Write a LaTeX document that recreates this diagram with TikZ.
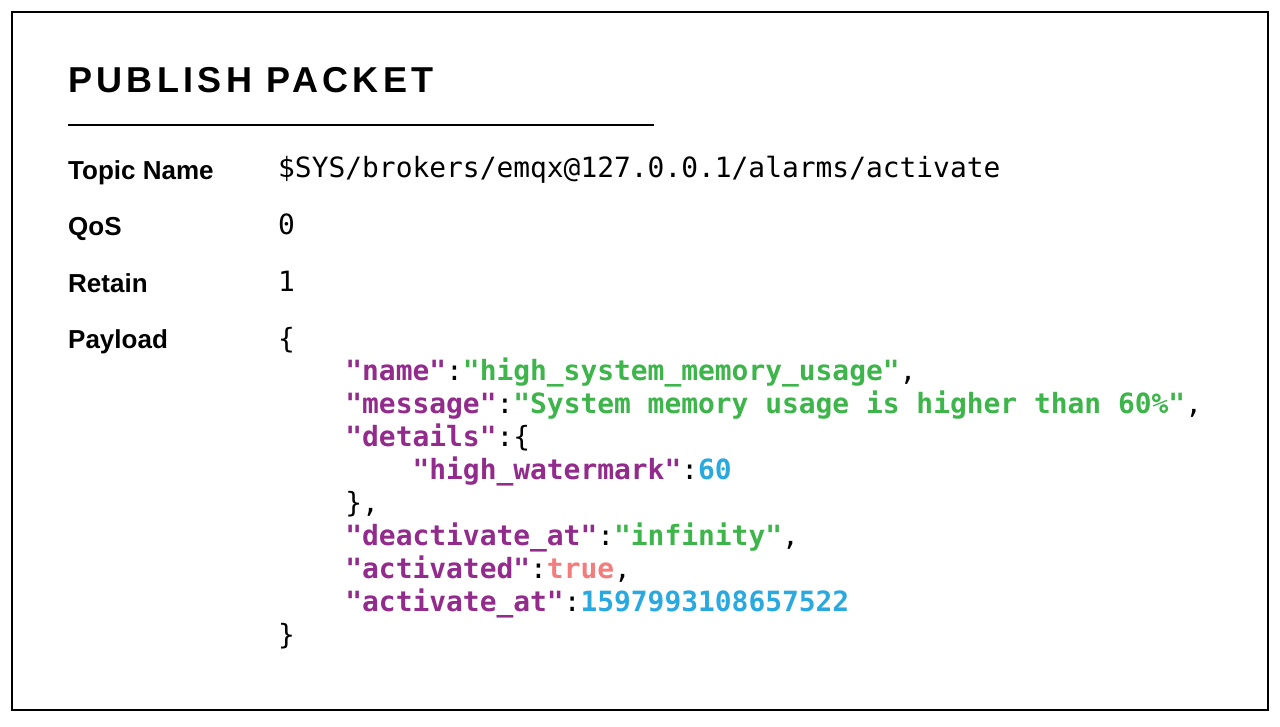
\documentclass[tikz,border=0pt]{standalone}
\usepackage{fontspec}
\setmainfont{Liberation Sans}
\newfontfamily\codefont{DejaVu Sans Mono}
\definecolor{kpur}{HTML}{922B8C}
\definecolor{kgrn}{HTML}{3DB54A}
\definecolor{kblu}{HTML}{29A9E0}
\definecolor{ksal}{HTML}{F47C7C}
\begin{document}
\begin{tikzpicture}[x=1pt,y=-1pt,
  lbl/.style={anchor=base west,inner sep=0pt,font=\fontsize{26}{30}\selectfont\bfseries},
  code/.style={anchor=base west,inner sep=0pt,font=\fontsize{27.9}{33}\codefont},
  K/.style={}]
\newcommand\ky[1]{\textcolor{kpur}{\bfseries"#1"}}
\newcommand\sv[1]{\textcolor{kgrn}{\bfseries"#1"}}
\newcommand\nv[1]{\textcolor{kblu}{\bfseries #1}}
\useasboundingbox (0,0) rectangle (1280,726);
\draw[line width=1.5pt] (12,12) rectangle (1268,710);
\node[anchor=base west,inner sep=0pt,font=\fontsize{36}{40}\selectfont\bfseries] (title) at (68,92) {\addfontfeatures{LetterSpace=12}PUBLISH PACKET};
\coordinate (l1) at (68,125); \coordinate (l2) at (654,125);
\draw[line width=1.5pt] (l1) -- (l2);
\node[lbl] (t) at (68,179) {Topic Name};
\node[lbl] (q) at (68,235) {QoS};
\node[lbl] (r) at (68,292) {Retain};
\node[lbl] (p) at (68,348) {Payload};
\node[code] (tv) at (278,177) {\$SYS/brokers/emqx@127.0.0.1/alarms/activate};
\node[code] (qv) at (278,234) {0};
\node[code] (rv) at (278,291) {1};
\node[code] (c0) at (278,348) {\{};
\node[code] (c1) at (278,380) {\phantom{xxxx}\ky{name}:\sv{high\_system\_memory\_usage},};
\node[code] (c2) at (278,413) {\phantom{xxxx}\ky{message}:\sv{System memory usage is higher than 60\%},};
\node[code] (c3) at (278,446) {\phantom{xxxx}\ky{details}:\{};
\node[code] (c4) at (278,479) {\phantom{xxxxxxxx}\ky{high\_watermark}:\nv{60}};
\node[code] (c5) at (278,512) {\phantom{xxxx}\},};
\node[code] (c6) at (278,545) {\phantom{xxxx}\ky{deactivate\_at}:\sv{infinity},};
\node[code] (c7) at (278,578) {\phantom{xxxx}\ky{activated}:\textcolor{ksal}{\bfseries true},};
\node[code] (c8) at (278,611) {\phantom{xxxx}\ky{activate\_at}:\nv{1597993108657522}};
\node[code] (c9) at (278,644) {\}};
\end{tikzpicture}
\end{document}
